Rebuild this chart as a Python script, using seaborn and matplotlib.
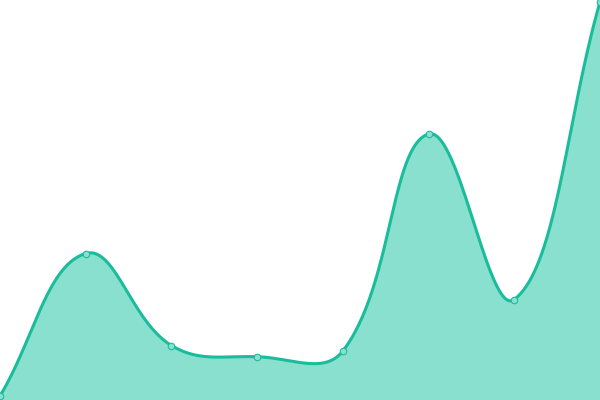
import numpy as np
import pandas as pd
import matplotlib
matplotlib.use("Agg")
import matplotlib.pyplot as plt
import seaborn as sns

# Data
categories = [0, 1, 2, 3, 4, 5, 6, 7]
values = [4, 146.5, 54.5, 43.3, 49, 266, 100.5, 398]

LINE = "#1abc9c"
FILL = "#8ae0cf"
YMAX = 400
W, H = 600, 400
TENSION = 0.4

sns.set_theme(style="white")

fig = plt.figure(figsize=(6, 4), dpi=100)
ax = fig.add_axes([0, 0, 1, 1])
ax.set_xlim(0, len(categories) - 1)
ax.set_ylim(0, YMAX)
ax.axis("off")

# smooth spline (Chart.js-style) computed in pixel space
n = len(categories)
P = np.column_stack([np.array(categories) / (n - 1) * W,
                     np.array(values) / YMAX * H])
cp_prev = np.zeros_like(P)
cp_next = np.zeros_like(P)
for i in range(n):
    prev = P[i - 1] if i > 0 else P[i]
    nxt = P[i + 1] if i < n - 1 else P[i]
    cur = P[i]
    d01 = np.hypot(*(cur - prev))
    d12 = np.hypot(*(nxt - cur))
    tot = d01 + d12
    s01 = d01 / tot if tot else 0
    s12 = d12 / tot if tot else 0
    cp_prev[i] = cur - TENSION * s01 * (nxt - prev)
    cp_next[i] = cur + TENSION * s12 * (nxt - prev)
cp_prev[:, 0] = np.clip(cp_prev[:, 0], 0, W)
cp_prev[:, 1] = np.clip(cp_prev[:, 1], 0, H)
cp_next[:, 0] = np.clip(cp_next[:, 0], 0, W)
cp_next[:, 1] = np.clip(cp_next[:, 1], 0, H)

tt = np.linspace(0, 1, 60)[:, None]
segs = []
for i in range(n - 1):
    p0, c1, c2, p3 = P[i], cp_next[i], cp_prev[i + 1], P[i + 1]
    b = ((1 - tt) ** 3) * p0 + 3 * ((1 - tt) ** 2) * tt * c1 \
        + 3 * (1 - tt) * tt ** 2 * c2 + tt ** 3 * p3
    segs.append(b if i == 0 else b[1:])
curve = np.vstack(segs)
cx = curve[:, 0] / W * (n - 1)
cy = curve[:, 1] / H * YMAX

ax.fill_between(cx, 0, cy, color=FILL, linewidth=0, zorder=1)
sns.lineplot(x=cx, y=cy, sort=False, color=LINE, linewidth=2.2, ax=ax, zorder=2)
sns.scatterplot(x=categories, y=values, ax=ax, s=22, color=FILL,
                edgecolor=LINE, linewidth=0.8, zorder=3)

fig.savefig("out.png", dpi=100)
